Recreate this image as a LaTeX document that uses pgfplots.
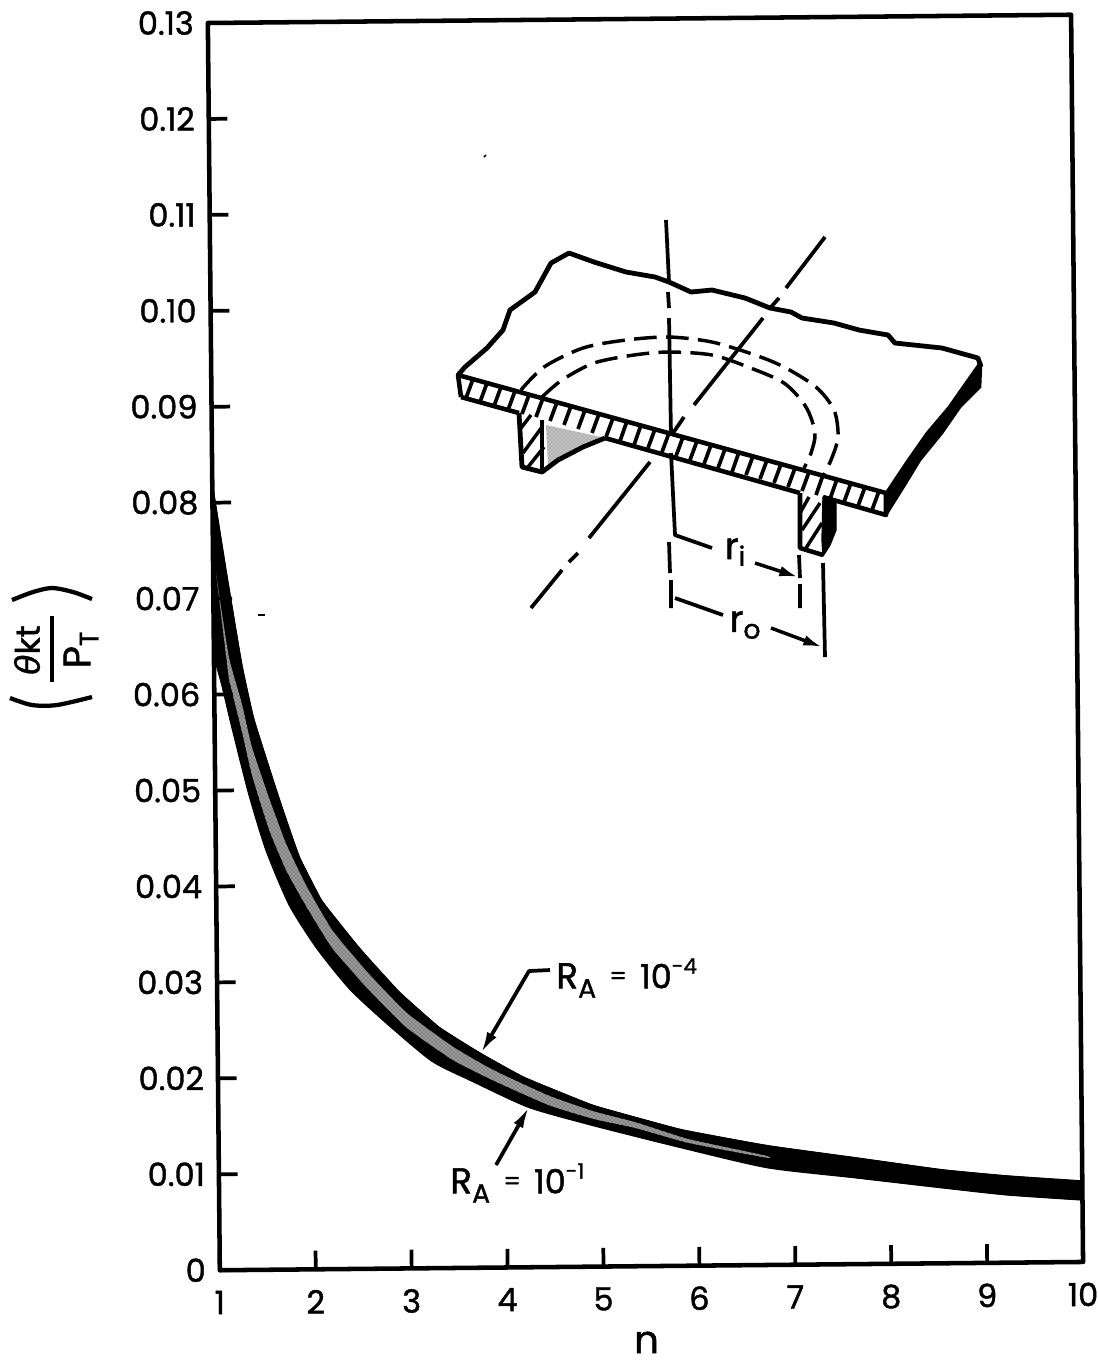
\documentclass[border=0pt]{standalone}
\usepackage{fontspec}
\setmainfont{Poppins}[FakeBold=1.3,Numbers=Monospaced]
\newfontfamily\dv{DejaVu Sans}[FakeBold=1]
\usepackage{pgfplots}
\usepackage{pgfplotstable}
\pgfplotsset{compat=1.18}
\usetikzlibrary{arrows.meta,patterns}

% band outline: R_A = 1e-4 edge left to right
\pgfplotstableread{
n y
1.00 0.0820
1.14 0.0726
1.29 0.0631
1.41 0.0574
1.665 0.0491
1.87 0.0430
2.10 0.0384
2.49 0.0334
2.90 0.0288
3.31 0.0251
3.73 0.0224
4.19 0.0198
4.91 0.0168
5.82 0.0142
6.72 0.01244
7.63 0.0111
8.54 0.00975
9.21 0.00905
10.0 0.00844
}\bandup
% R_A = 1e-1 edge, right to left
\pgfplotstableread{
n y
10.0 0.00646
9.21 0.00707
8.54 0.00787
7.63 0.00901
6.72 0.01014
5.82 0.01232
4.91 0.0147
4.24 0.01666
3.64 0.0195
3.23 0.0216
2.76 0.0256
2.38 0.0292
2.04 0.0335
1.76 0.0380
1.525 0.0437
1.35 0.0496
1.18 0.0566
1.08 0.0610
1.00 0.0640
}\bandlow
% whole band, corners kept sharp
\pgfplotstableread{
n y
1.00 0.0820
1.14 0.0726
1.29 0.0631
1.41 0.0574
1.665 0.0491
1.87 0.0430
2.10 0.0384
2.49 0.0334
2.90 0.0288
3.31 0.0251
3.73 0.0224
4.19 0.0198
4.91 0.0168
5.82 0.0142
6.72 0.01244
7.63 0.0111
8.54 0.00975
9.21 0.00905
10.0 0.00844
10.0 0.00646
9.21 0.00707
8.54 0.00787
7.63 0.00901
6.72 0.01014
5.82 0.01232
4.91 0.0147
4.24 0.01666
3.64 0.0195
3.23 0.0216
2.76 0.0256
2.38 0.0292
2.04 0.0335
1.76 0.0380
1.525 0.0437
1.35 0.0496
1.18 0.0566
1.08 0.0610
1.00 0.0640
}\band
% stippled core of the band
\pgfplotstableread{
n y
1.03 0.0727
1.154 0.0640
1.287 0.0590
1.387 0.0545
1.56 0.0492
1.733 0.0444
1.94 0.0400
2.205 0.03535
2.557 0.03105
2.97 0.02668
3.447 0.0231
3.86 0.02065
4.44 0.0179
4.91 0.0162
5.35 0.0150
5.9 0.0132
6.7 0.0114
6.7 0.0112
5.9 0.0128
5.35 0.0144
4.91 0.0154
4.44 0.0169
3.86 0.01955
3.447 0.0217
2.97 0.02512
2.557 0.02935
2.205 0.03345
1.94 0.0378
1.733 0.0416
1.56 0.0458
1.387 0.0515
1.287 0.0560
1.154 0.0616
}\core

\newcommand\RA{\fontsize{27}{30}\selectfont R\raisebox{-7pt}{\fontsize{20}{20}\selectfont A}}
\newcommand\Aeq[1]{\RA\hspace{10pt}\fontsize{18}{20}\selectfont\raisebox{3pt}{=}\hspace{10pt}\fontsize{25}{28}\selectfont 10\raisebox{11pt}{\fontsize{16}{16}\selectfont #1}}

\begin{document}
\begin{tikzpicture}[line join=round,line cap=round]
\useasboundingbox (0,0) rectangle (823.5pt,-1023pt);

% the scan sits about half a degree off square
\begin{axis}[
  rotate around={0.55:(165pt,-951pt)},
  at={(165pt,-951pt)}, anchor=south west,
  scale only axis, width=647.5pt, height=935.5pt,
  xmin=1, xmax=10, ymin=0, ymax=0.13,
  axis line style={line width=3.4pt},
  tick align=inside, xtick pos=bottom, ytick pos=left,
  major tick length=14pt,
  tick style={line width=2.8pt,black},
  xtick={1,...,10},
  ytick={0,0.01,0.02,0.03,0.04,0.05,0.06,0.07,0.08,0.09,0.10,0.11,0.12,0.13},
  yticklabels={0,0.01,0.02,0.03,0.04,0.05,0.06,0.07,0.08,0.09,0.10,0.11,0.12,0.13},
  scaled y ticks=false,
  tick label style={font=\fontsize{24}{28}\selectfont},
  /pgf/number format/assume math mode=true,
  xticklabel style={yshift=-12pt},
  yticklabel style={xshift=-7pt},
  xlabel={n}, xlabel style={font=\fontsize{29}{32}\selectfont,inner sep=0pt,yshift=-12pt,xshift=-4pt},
  clip=false, axis on top,
]
  \addplot[black, fill=black, line width=0.5pt] table[x=n,y=y] {\band} --cycle;
  \addplot[black, line width=1pt, smooth, tension=0.4] table[x=n,y=y] {\bandup};
  \addplot[black, line width=1pt, smooth, tension=0.4] table[x=n,y=y] {\bandlow};
  \addplot[draw=none, fill=black!50, smooth, tension=0.3] table[x=n,y=y] {\core} --cycle;
  \addplot[draw=none, pattern=crosshatch dots, pattern color=white, smooth, tension=0.3] table[x=n,y=y] {\core} --cycle;
\end{axis}

% inset sketch and annotations, in the picture's own pixel coordinates
\begin{axis}[
  at={(0pt,-1023pt)}, anchor=south west,
  scale only axis, width=823.5pt, height=1023pt,
  xmin=0, xmax=1098, ymin=0, ymax=1364, y dir=reverse,
  hide axis, clip=false, unbounded coords=jump,
]
  % plate outline
  \addplot[black, line width=3.6pt] coordinates {
    (458,375)(465,367)(487,348)(503,330)(510,310)(535,292)(551,263)(569,253)
    (594,262)(626,272)(655,277)(669,282)(691,292)(712,290)(745,298)(770,308)
    (791,312)(802,318)(834,323)(859,330)(888,335)(895,343)(942,348)(978,358)(981,367)};
  % broken right edge
  \addplot[black, fill=black, line width=2pt] coordinates {
    (981,363)(980,387)(960,407)(942,433)(920,460)(906,483)(886,515)
    (886,493)(906,463)(927,433)(949,407)(970,377)(980,363)} --cycle;
  % plate section
  \addplot[black, line width=3.4pt] coordinates {(461,397)(458,375)(886,493)(886,515)(823,497)};
  \addplot[black, line width=3.4pt] coordinates {(461,397)(519,413)};
  \addplot[black, line width=3.4pt] coordinates {(605,438)(800,493)};
  \addplot[black, line width=2.8pt] coordinates {
    (466,398)(473,379)(nan,nan)(480,402)(487,383)(nan,nan)(494,406)(501,387)(nan,nan)
    (508,410)(515,391)(nan,nan)(522,414)(529,395)(nan,nan)(536,417)(543,398)(nan,nan)
    (550,421)(557,402)(nan,nan)(564,425)(571,406)(nan,nan)(578,429)(585,410)(nan,nan)
    (592,433)(599,414)(nan,nan)(606,437)(613,418)(nan,nan)(620,441)(627,421)(nan,nan)
    (634,445)(641,425)(nan,nan)(648,448)(655,429)(nan,nan)(662,452)(669,433)(nan,nan)
    (676,456)(683,437)(nan,nan)(690,460)(697,441)(nan,nan)(704,464)(711,445)(nan,nan)
    (718,468)(725,449)(nan,nan)(732,472)(739,452)(nan,nan)(746,475)(753,456)(nan,nan)
    (760,479)(767,460)(nan,nan)(774,483)(781,464)(nan,nan)(788,487)(795,468)(nan,nan)
    (802,491)(809,472)(nan,nan)(816,495)(823,475)(nan,nan)(830,499)(837,479)(nan,nan)
    (844,502)(851,483)(nan,nan)(858,506)(865,487)(nan,nan)(872,510)(879,491)};
  % left flange
  \addplot[gray!60, draw=none, fill=gray!60] coordinates {(546,425)(601,437)(575,450)(558,460)(548,466)} --cycle;
  \addplot[draw=none, pattern=crosshatch dots, pattern color=white] coordinates {(546,425)(601,437)(575,450)(558,460)(548,466)} --cycle;
  \addplot[black, line width=3.6pt] coordinates {(519,413)(522,467)(542,472)(558,460)(583,447)(605,438)};
  \addplot[black, line width=3pt] coordinates {(542,420)(542,470)};
  \addplot[black, line width=2.6pt] coordinates {(523,453)(542,427)(nan,nan)(528,467)(544,447)(nan,nan)(521,428)(531,415)};
  % right flange
  \addplot[black, line width=3.4pt] coordinates {(800,493)(800,548)(823,555)};
  \addplot[black, fill=black, line width=1pt] coordinates {(823,497)(836,502)(836,530)(830,545)(823,556)(822,540)} --cycle;
  \addplot[black, line width=2.6pt] coordinates {(802,530)(820,503)(nan,nan)(806,548)(822,523)(nan,nan)(800,513)(809,497)};
  % hidden circles
  \addplot[black, line width=2.6pt, smooth, dash pattern=on 17pt off 7pt] coordinates {
    (521,390)(544,367)(583,348)(626,340)(669,337)(712,342)(755,355)(784,367)(816,387)(834,410)(838,437)(831,460)(822,478)};
  \addplot[black, line width=2.6pt, smooth, dash pattern=on 17pt off 7pt] coordinates {
    (542,397)(562,380)(594,363)(634,355)(669,352)(712,355)(748,367)(784,383)(806,407)(815,433)(811,453)(804,468)};
  % centre lines
  \addplot[black, line width=2.8pt] coordinates {
    (666,220)(669,282)(nan,nan)(668,292)(669,308)(nan,nan)(669,318)(671,435)(nan,nan)
    (671,453)(675,535)(712,548)(nan,nan)(669,542)(670,573)(nan,nan)(671,580)(671,608)};
  \addplot[black, line width=2.8pt] coordinates {
    (825,237)(786,288)(nan,nan)(779,298)(771,307)(nan,nan)(763,318)(694,405)(nan,nan)
    (684,417)(673,433)(nan,nan)(650,462)(589,538)(nan,nan)(578,553)(569,562)(nan,nan)(562,570)(531,608)};
  % dimensions
  \addplot[black, line width=2.8pt] coordinates {
    (799,555)(800,578)(nan,nan)(800,584)(800,608)(nan,nan)(823,563)(825,657)(nan,nan)(675,598)(723,615)};
  \addplot[black, line width=2.6pt, -{Latex[length=14pt,width=8pt]}] coordinates {(755,563)(798,577)};
  \addplot[black, line width=2.6pt, -{Latex[length=14pt,width=8pt]}] coordinates {(771,628)(822,647)};
  \node[font=\fontsize{28}{30}\selectfont] at (735,552) {r\raisebox{-5pt}{\fontsize{20}{20}\selectfont i}};
  \node[font=\fontsize{28}{30}\selectfont] at (745,625) {r\raisebox{-5pt}{\fontsize{20}{20}\selectfont o}};
  % specks on the scan
  \addplot[black, line width=1.2pt] coordinates {(258,615)(265,615)};
  \addplot[black, line width=1.2pt] coordinates {(484,157)(486,155)};
  % leaders to the band
  \addplot[black, line width=2.8pt, -{Latex[length=16pt,width=8pt]}] coordinates {(550,970)(529,971)(481,1053)};
  \addplot[black, line width=2.8pt, -{Latex[length=16pt,width=8pt]}] coordinates {(496,1165)(529,1107)};
  \node[anchor=west,inner sep=0pt] at (556,978) {\Aeq{-4}};
  \node[anchor=west,inner sep=0pt] at (450,1183) {\Aeq{-1}};
  % y label: rotated bracketed fraction
  \addplot[black, line width=3.2pt, smooth] coordinates {(12,600)(33,592)(52,588)(73,592)(92,599)};
  \addplot[black, line width=3.2pt, smooth] coordinates {(10,698)(32,705)(57,705)(92,697)};
  \addplot[black, line width=3.4pt] coordinates {(52,616)(52,682)};
  \node[rotate=90,font=\fontsize{25}{27}\selectfont] at (27,650) {{\dv\itshape θ}kt};
  \node[rotate=90,font=\fontsize{29}{31}\selectfont] at (81,650) {P\raisebox{-6pt}{\fontsize{20}{20}\selectfont T}};
\end{axis}
\end{tikzpicture}
\end{document}
